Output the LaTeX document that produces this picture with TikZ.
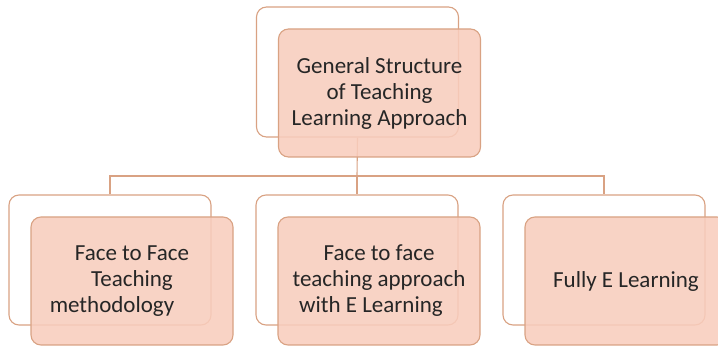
\documentclass[tikz,border=0pt]{standalone}
\usepackage{fontspec}
\setmainfont{Carlito}
\definecolor{edgecol}{HTML}{D9A283}
\definecolor{fillcol}{HTML}{F8CDBD}
\tikzset{
  backbox/.style={draw=edgecol, line width=1.1pt, fill=white, rounded corners=10pt, minimum width=202pt, minimum height=130pt, inner sep=0pt},
  frontbox/.style={draw=edgecol, line width=1.1pt, fill=fillcol, fill opacity=0.88, text opacity=1, rounded corners=10pt, minimum width=202pt, minimum height=128pt, inner sep=0pt, align=center, font=\fontsize{23}{26}\selectfont, text=black!85},
  link/.style={draw=edgecol, line width=1.1pt}
}
\begin{document}
\begin{tikzpicture}[x=1pt,y=-1pt]
\useasboundingbox (0,0) rectangle (718,347);
\clip (0,0) rectangle (718,347);
% back boxes
\node[backbox] (tb) at (357.5,72) {};
\node[backbox] (lb) at (110,260) {};
\node[backbox] (mb) at (357,260) {};
\node[backbox] (rb) at (604,260) {};
% connectors
\coordinate (hl) at (110,176);
\coordinate (hm) at (357,176);
\coordinate (hr) at (604,176);
\draw[link] (tb.south) -- (hm);
\draw[link] (lb.north) -- (hl) -- (hr) -- (rb.north);
\draw[link] (hm) -- (mb.north);
% front boxes
\node[frontbox] (tf) at (379.5,93) {General Structure\\of Teaching\\Learning Approach};
\node[frontbox] (lf) at (132,281) {Face to Face\\Teaching\\methodology\hspace*{40pt}};
\node[frontbox] (mf) at (379,281) {Face to face\\teaching approach\\with E Learning\hspace*{16pt}};
\node[frontbox] (rf) at (626,281) {Fully E Learning};
\end{tikzpicture}
\end{document}
